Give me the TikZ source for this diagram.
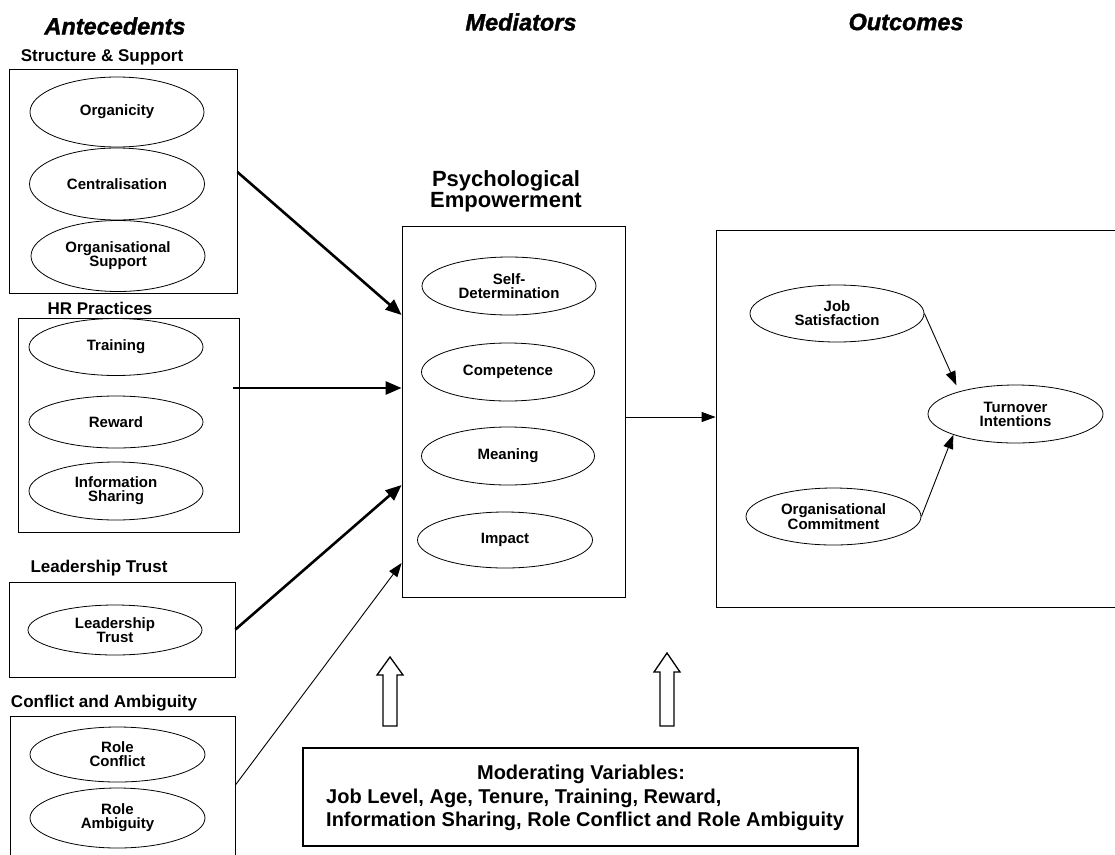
\documentclass[tikz,border=0pt]{standalone}
\usepackage{fontspec}
\setmainfont{Liberation Sans}
\newfontfamily\headfont{Liberation Sans}[BoldItalicFeatures={FakeBold=1.5}]
\usetikzlibrary{shapes.geometric,arrows.meta}

\tikzset{
  grp/.style={draw, rectangle, line width=0.8pt, inner sep=0pt},
  oval/.style={draw, ellipse, line width=0.8pt, inner sep=0pt, align=center,
    font=\fontsize{15}{14}\selectfont\bfseries},
  lbl/.style={inner sep=0pt, font=\fontsize{17}{20}\selectfont\bfseries},
  head/.style={inner sep=0pt, font=\headfont\fontsize{23.5}{24}\selectfont\bfseries\itshape},
  modtext/.style={inner sep=0pt, font=\fontsize{20}{22}\selectfont\bfseries},
  thickarrow/.style={line width=2.6pt, -{Triangle[length=16pt,width=13pt]}},
  thinarrow/.style={line width=0.9pt, -{Triangle[length=14pt,width=10pt]}},
  hollowarrow/.style={draw, line width=1.3pt, line join=miter},
}

\begin{document}
\begin{tikzpicture}[x=1pt, y=-1pt]
\useasboundingbox (0,0) rectangle (1115,854);
\clip (0,0) rectangle (1115,854);

% column headings
\node[head] (hA) at (115,26) {Antecedents};
\node[head] (hM) at (521,22) {Mediators};
\node[head] (hO) at (906,22) {Outcomes};

% antecedent group labels
\node[lbl] (lSS) at (102,57)  {Structure \& Support};
\node[lbl] (lHR) at (100,308) {HR Practices};
\node[lbl] (lLT) at (99,568)  {Leadership Trust};
\node[lbl] (lCA) at (104,703) {Conflict and Ambiguity};

% antecedent group boxes
\node[grp, minimum width=228pt, minimum height=224pt] (ss) at (123,181) {};
\node[grp, minimum width=221pt, minimum height=214pt] (hr) at (128.5,425) {};
\node[grp, minimum width=226pt, minimum height=95pt]  (lt) at (122,629.5) {};
\node[grp, minimum width=225pt, minimum height=142pt] (ca) at (122.5,787) {};

% structure & support
\node[oval, minimum width=174pt, minimum height=70pt] (org) at (117,112) {Organicity};
\node[oval, minimum width=175pt, minimum height=72pt] (cen) at (117,184) {Centralisation};
\node[oval, minimum width=174pt, minimum height=71pt] (osu) at (118,256) {Organisational\\Support};

% HR practices
\node[oval, minimum width=174pt, minimum height=57pt] (trn) at (116,347) {Training};
\node[oval, minimum width=174pt, minimum height=52pt] (rew) at (116,422) {Reward};
\node[oval, minimum width=174pt, minimum height=58pt] (inf) at (116,491) {Information\\Sharing};

% leadership trust
\node[oval, minimum width=174pt, minimum height=50pt] (ldr) at (115,630) {Leadership\\Trust};

% conflict and ambiguity
\node[oval, minimum width=175pt, minimum height=55pt] (rco) at (117.5,754.5) {Role\\Conflict};
\node[oval, minimum width=175pt, minimum height=60pt] (ram) at (117.5,818) {Role\\Ambiguity};

% mediators
\node[inner sep=0pt, align=center, font=\fontsize{22}{21}\selectfont\bfseries] (pt) at (506,191)
  {Psychological\\Empowerment};
\node[grp, minimum width=223pt, minimum height=371pt] (pe) at (513.5,411.5) {};
\node[oval, minimum width=174pt, minimum height=58pt] (sdt) at (509,286) {Self-\\Determination};
\node[oval, minimum width=173pt, minimum height=58pt] (cmp) at (508,372) {Competence};
\node[oval, minimum width=173pt, minimum height=58pt] (mea) at (508,456) {Meaning};
\node[oval, minimum width=175pt, minimum height=56pt] (imp) at (505,540) {Impact};

% outcomes
\node[grp, minimum width=404pt, minimum height=377pt] (oc) at (918,418.5) {};
\node[oval, minimum width=174pt, minimum height=57pt] (jsa) at (837,313.5) {Job\\Satisfaction};
\node[oval, minimum width=175pt, minimum height=58pt] (tin) at (1015.5,414) {Turnover\\Intentions};
\node[oval, minimum width=175pt, minimum height=57pt] (ocm) at (833.5,516.5) {Organisational\\Commitment};

% moderating variables
\node[grp, line width=1.8pt, minimum width=555pt, minimum height=98pt] (mv) at (580.5,797) {};
\node[modtext] (mv1) at (581,774) {Moderating Variables:};
\node[modtext, anchor=west] (mv2) at (326,798) {Job Level, Age, Tenure, Training, Reward,};
\node[modtext, anchor=west] (mv3) at (326,821) {Information Sharing, Role Conflict and Role Ambiguity};

% hollow up arrows
\draw[hollowarrow] (383,726) -- (383,675) -- (377,675) -- (390,657) -- (403,675) -- (397,675) -- (397,726) -- cycle;
\draw[hollowarrow] (660,726) -- (660,672) -- (654,672) -- (667,653) -- (680,672) -- (674,672) -- (674,726) -- cycle;

% paths into psychological empowerment
\draw[thickarrow] ([yshift=9pt]ss.east) -- ([yshift=96.5pt]pe.west);
\draw[thickarrow] ([xshift=-6pt,yshift=37pt]hr.east) -- ([yshift=23.5pt]pe.west);
\draw[thickarrow] (lt.east) -- ([yshift=-73.5pt]pe.west);
\draw[thinarrow] ([yshift=2pt]ca.east) -- ([yshift=-151.5pt]pe.west);

% empowerment to outcomes
\draw[thinarrow] ([yshift=-5.5pt]pe.east) -- ([yshift=1.5pt]oc.west);
\draw[thinarrow] (jsa.east) -- ([xshift=3pt,yshift=8pt]tin.north west);
\draw[thinarrow] (ocm.east) -- (tin.south west);
\end{tikzpicture}
\end{document}
